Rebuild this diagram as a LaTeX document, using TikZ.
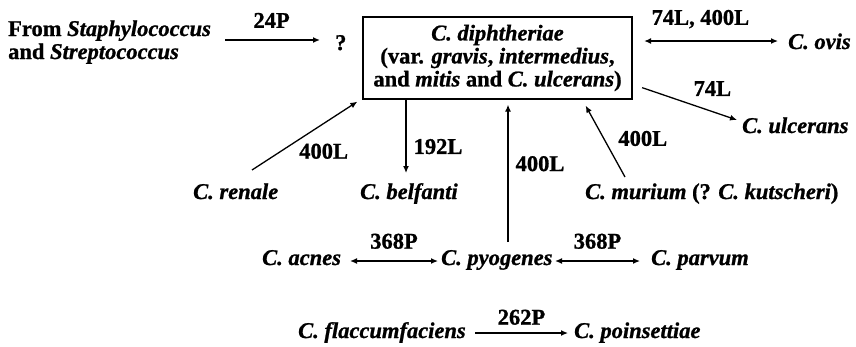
\documentclass[tikz,border=0pt]{standalone}
\usepackage{fontspec}
\setmainfont{Liberation Serif}[BoldFeatures={FakeBold=1}, BoldItalicFeatures={FakeBold=1}]
\usetikzlibrary{arrows.meta}
\begin{document}
\begin{tikzpicture}[x=1pt,y=-1pt,
  lbl/.style={font=\fontsize{22.5}{23}\selectfont\bfseries, inner sep=0pt},
  txt/.style={lbl, anchor=base west},
  conn/.style={line width=1.3pt, -{Latex[length=7pt,width=6pt]}},
  biconn/.style={line width=1.3pt, {Latex[length=7pt,width=6pt]}-{Latex[length=7pt,width=6pt]}},
  tag/.style={lbl}]
\useasboundingbox (0,0) rectangle (856,346);

% source, unknown host and the central host box
\node[txt, align=left] (from) at (8,59) {From \textit{Staphylococcus}\\and \textit{Streptococcus}};
\node[txt] (q) at (335,50) {?};
\node[lbl, draw, line width=1.3pt, minimum width=269pt, minimum height=82pt, align=center]
  (box) at (497.5,58) {\textit{C. diphtheriae}\\(var. \textit{gravis}, \textit{intermedius},\\and \textit{mitis} and \textit{C. ulcerans})};

% surrounding species
\node[txt] (ovis) at (788,49) {\textit{C. ovis}};
\node[txt] (ulc) at (742,133) {\textit{C. ulcerans}};
\node[txt] (renale) at (193,199) {\textit{C. renale}};
\node[txt] (belf) at (360,199) {\textit{C. belfanti}};
\node[txt] (mur) at (585,199) {\textit{C. murium} (? \textit{C. kutscheri})};
\node[txt] (acnes) at (262,265) {\textit{C. acnes}};
\node[txt] (pyo) at (441,265) {\textit{C. pyogenes}};
\node[txt] (parv) at (651,265) {\textit{C. parvum}};
\node[txt] (flac) at (298,338) {\textit{C. flaccumfaciens}};
\node[txt] (poin) at (574,338) {\textit{C. poinsettiae}};

% connectors with phage labels
\draw[conn] ([shift={(14,-19)}]from.base east) -- node[tag, pos=0.49, above=11.5pt] {24P} ([shift={(-15,-10)}]q.base west);
\draw[biconn] ([shift={(11.5,-17)}]box.east) -- node[tag, pos=0.42, above=12pt] {74L, 400L} ([shift={(-10,-8)}]ovis.base west);
\draw[conn] ([shift={(9.5,-12)}]box.south east) -- node[tag, pos=0.74, above=15pt] {74L} ([shift={(-5,-13)}]ulc.base west);
\draw[conn] ([shift={(59,-29)}]renale.base west) -- node[tag, pos=0.68, below=19.5pt] {400L} ([shift={(-5,2)}]box.south west);
\draw[conn] ([xshift=-91.5pt]box.south) -- node[tag, pos=0.64, right=7pt] {192L} ([shift={(46,-26)}]belf.base west);
\draw[conn] ([shift={(67,-23)}]pyo.base west) -- node[tag, pos=0.57, right=7pt] {400L} ([xshift=10.5pt,yshift=-5pt]box.south);
\draw[conn] ([shift={(40,-22)}]mur.base west) -- node[tag, pos=0.54, right=14pt] {400L} ([shift={(-47,6)}]box.south east);
\draw[biconn] ([shift={(88,-4)}]acnes.base west) -- node[tag, pos=0.5, above=11.5pt] {368P} ([shift={(-3,-4)}]pyo.base west);
\draw[biconn] ([shift={(114,-4)}]pyo.base west) -- node[tag, pos=0.5, above=11.5pt] {368P} ([shift={(-11,-4)}]parv.base west);
\draw[conn] ([shift={(177,-5)}]flac.base west) -- node[tag, pos=0.5, above=7.5pt] {262P} ([shift={(-6,-5)}]poin.base west);
\end{tikzpicture}
\end{document}
